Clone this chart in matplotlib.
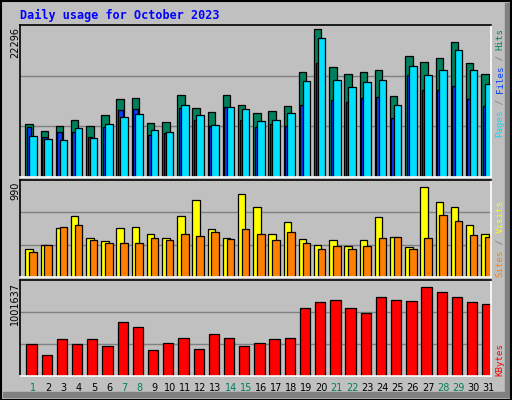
import matplotlib
matplotlib.use("Agg")
import matplotlib.pyplot as plt
from matplotlib.patches import Rectangle

days = list(range(1, 32))
weekend = [1, 7, 8, 14, 15, 21, 22, 28, 29]
hits = [7831, 6801, 7537, 8420, 7537, 9156, 11511, 11658, 7978, 8125, 12100, 10186, 9597, 12100, 10628, 9450,
        9745, 10481, 15338, 21668, 16074, 15044, 15338, 15633, 11953, 17693, 16810, 17399, 19754, 16663, 15044]
files = [6065, 5623, 5476, 7242, 5770, 7831, 8861, 9303, 6948, 6653, 10628, 9156, 7684, 10333, 10039, 8273,
         8420, 9450, 14013, 20343, 14161, 13130, 13866, 14161, 10628, 16221, 14897, 15633, 18577, 15633, 13572]
pages = [7389, 5917, 6653, 6653, 5917, 7389, 9892, 10039, 6212, 6506, 10186, 8420, 7537, 10333, 8420, 7389,
         7831, 7537, 10628, 16663, 11364, 11069, 11658, 11805, 8714, 14897, 12689, 12806, 13277, 11511, 10481]
visits = [283, 323, 503, 623, 393, 363, 503, 513, 443, 403, 623, 783, 493, 393, 843, 713,
          443, 563, 383, 323, 373, 313, 373, 613, 413, 303, 923, 763, 713, 533, 443]
sites = [253, 323, 513, 533, 373, 343, 343, 343, 393, 373, 443, 423, 463, 383, 493, 443,
         373, 463, 343, 283, 313, 283, 313, 403, 413, 283, 393, 633, 573, 433, 413]
kbytes = [337250, 215840, 387840, 337250, 387840, 317015, 559835, 509248, 266428, 347368, 397955, 276545,
          438425, 397955, 317015, 347368, 387840, 397955, 711598, 772303, 792538, 711598, 661010, 822890,
          792538, 782420, 924065, 873478, 822890, 772303, 752068]
max_hits, max_visits, max_kb = 22296, 990, 1001637

W, H = 512, 400
BG = "#c0c0c0"
fig = plt.figure(figsize=(W/100, H/100), dpi=100, facecolor=BG)

def fy(y):
    return 1 - y / H

def fx(x):
    return x / W

# outer border & shadow
fig.patches.append(Rectangle((fx(505), fy(397)), fx(5), fy(3) - fy(397), transform=fig.transFigure, color="#808080", zorder=0))
fig.patches.append(Rectangle((fx(3), fy(397)), fx(505), fy(392) - fy(397) if False else 5/H, transform=fig.transFigure, color="#808080", zorder=0))
fig.patches.append(Rectangle((0.001, 0.001), 0.997, 0.997, transform=fig.transFigure, fill=False, ec="black", lw=1.5, zorder=5))

def mkax(y0, y1):
    ax = fig.add_axes([fx(20), fy(y1), fx(471), (y1 - y0) / H])
    ax.set_facecolor(BG)
    ax.set_xlim(0, 31)
    ax.set_xticks([])
    ax.set_yticks([])
    for s in ("left", "top"):
        ax.spines[s].set_color("black")
    for s in ("right", "bottom"):
        ax.spines[s].set_color("white")
    for s in ax.spines.values():
        s.set_linewidth(1.2)
    return ax

x = [d - 1 for d in days]
ek = dict(edgecolor="black", linewidth=0.9, align="edge")

ax1 = mkax(25, 177)
ax1.set_ylim(0, max_hits)
for g in (max_hits/3, 2*max_hits/3):
    ax1.axhline(g, color="#808080", lw=1, zorder=0)
ax1.bar([i + 0.35 for i in x], hits, width=0.49, color="#00805c", **ek)
ax1.bar([i + 0.45 for i in x], pages, width=0.3, color="#0040ff", **ek)
ax1.bar([i + 0.6 for i in x], files, width=0.5, color="#00e0ff", **ek)

ax2 = mkax(180, 277)
ax2.set_ylim(0, max_visits)
for g in (max_visits/3, 2*max_visits/3):
    ax2.axhline(g, color="#808080", lw=1, zorder=0)
ax2.bar([i + 0.35 for i in x], visits, width=0.49, color="#ffff00", **ek)
ax2.bar([i + 0.6 for i in x], sites, width=0.5, color="#ff8000", **ek)

ax3 = mkax(280, 376)
ax3.set_ylim(0, max_kb)
for g in (max_kb/3, 2*max_kb/3):
    ax3.axhline(g, color="#808080", lw=1, zorder=0)
ax3.bar([i + 0.42 for i in x], kbytes, width=0.68, color="#ff0000", **ek)

# title
fig.text(fx(20), fy(15), "Daily usage for October 2023", color="#0000ff", fontsize=8.5,
         fontweight="bold", family="DejaVu Sans Mono", va="center", ha="left")

# max labels
for val, y in ((max_hits, 27), (max_visits, 182), (max_kb, 282)):
    fig.text(fx(15), fy(y), str(val), rotation=90, ha="center", va="top", fontsize=7, family="DejaVu Sans")

# day labels
for i, d in enumerate(days):
    fig.text(fx(20 + (i + 0.86) * 471 / 31), fy(388), str(d), ha="center", va="center", fontsize=7,
             color="#00805c" if d in weekend else "black", family="DejaVu Sans")

# right labels
def side(parts, ybot):
    idx = 0
    for txt, col in parts:
        fig.text(fx(500), fy(ybot - idx * 5.45), txt, rotation=90, ha="center", va="bottom",
                 fontsize=6.6, family="DejaVu Sans Mono", color=col)
        idx += len(txt)

side([("Pages", "#00e0ff"), (" / ", "#808080"), ("Files", "#0040ff"), (" / ", "#808080"), ("Hits", "#00805c")], 137)
side([("Sites", "#ff8000"), (" / ", "#808080"), ("Visits", "#ffff00")], 277)
side([("KBytes", "#ff0000")], 376)

fig.savefig("out.png", dpi=100, facecolor=BG)
